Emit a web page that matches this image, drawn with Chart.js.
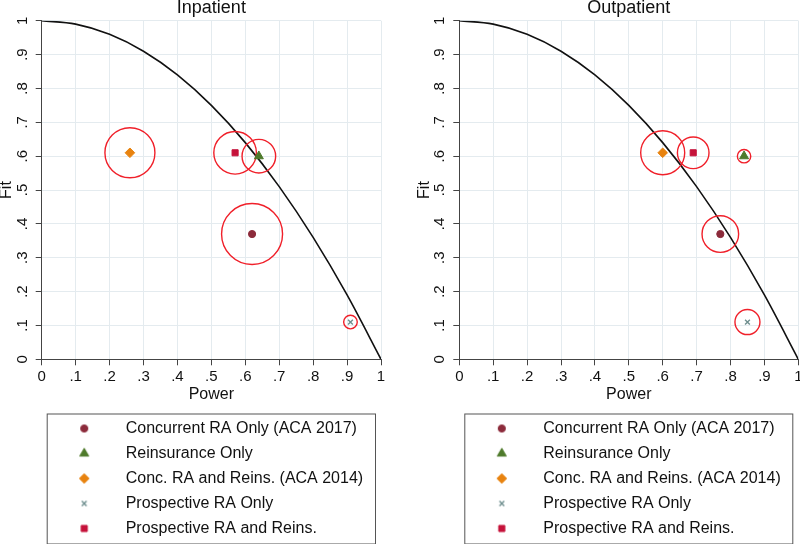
<!DOCTYPE html>
<html>
<head>
<meta charset="utf-8">
<title>Power and Fit: Inpatient and Outpatient</title>
<script src="https://cdn.jsdelivr.net/npm/chart.js@4.4.1/dist/chart.umd.min.js"></script>
<style>
  html, body { margin: 0; padding: 0; background: #fff; }
  #wrap { display: flex; width: 800px; height: 544px; }
  canvas { display: block; }
</style>
</head>
<body>
<div id="wrap">
  <canvas id="inpatientChart" width="400" height="544"></canvas>
  <canvas id="outpatientChart" width="400" height="544"></canvas>
</div>
<script>
// payment systems, in legend order
var scenarios = ['Concurrent RA Only (ACA 2017)', 'Reinsurance Only', 'Conc. RA and Reins. (ACA 2014)', 'Prospective RA Only', 'Prospective RA and Reins.'];

var inpatientPower = [0.62, 0.64, 0.26, 0.91, 0.57];
var inpatientFit = [0.37, 0.60, 0.61, 0.11, 0.61];
var inpatientRing = [30.5, 16.8, 25, 6.8, 21.3];

var outpatientPower = [0.77, 0.84, 0.60, 0.85, 0.69];
var outpatientFit = [0.37, 0.60, 0.61, 0.11, 0.61];
var outpatientRing = [18.3, 6.7, 22, 12.5, 15.8];

// frontier curve
var frontierPower = [0, .1, .2, .3, .4, .5, .6, .7, .8, .9, 1];
var frontierFit = [1, .99, .96, .91, .84, .75, .64, .51, .36, .19, 0];

var tickLabels = ['0', '.1', '.2', '.3', '.4', '.5', '.6', '.7', '.8', '.9', '1'];

var markerStyles = ['circle', 'triangle', 'rectRot', 'crossRot', 'rect'];
var markerColors = ['#8c2b3b', '#4e7a2b', '#e8830f', '#6f8f8f', '#c5123a'];
var markerSizes = [3.6, 5.2, 4.8, 3.4, 4.3];
var ringColor = '#f0202a';

Chart.defaults.font.family = '"Liberation Sans", Arial, Helvetica, sans-serif';
Chart.defaults.color = '#111';

// small canvases used as legend symbols
function makeIcon(i) {
    var c = document.createElement('canvas');
    c.width = 16; c.height = 16;
    var ctx = c.getContext('2d');
    ctx.fillStyle = markerColors[i];
    ctx.strokeStyle = markerColors[i];
    ctx.lineWidth = markerStyles[i] === 'crossRot' ? 1.4 : 1;
    Chart.helpers.drawPoint(ctx, { pointStyle: markerStyles[i], radius: markerSizes[i], rotation: 0, borderWidth: ctx.lineWidth }, 8, 8);
    return c;
}
var legendIcons = scenarios.map(function(s, i) { return makeIcon(i); });

var legendBox = {
    id: 'legendBox',
    afterDraw: function(chart) {
        var l = chart.legend, a = chart.chartArea, ctx = chart.ctx;
        ctx.save();
        ctx.strokeStyle = '#555';
        ctx.lineWidth = 1;
        ctx.strokeRect(a.left + 5.5, l.top + 2.5, a.right - a.left - 11, 130);
        ctx.restore();
    }
};

function makeChart(id, title, power, fit, ring, padLeft, padRight) {
    var datasets = [{
        label: 'frontier',
        data: frontierPower.map(function(x, i) { return { x: x, y: frontierFit[i] }; }),
        showLine: true,
        borderColor: '#111',
        borderWidth: 1.6,
        pointRadius: 0,
        cubicInterpolationMode: 'monotone',
        order: 3
    }, {
        type: 'bubble',
        label: 'rings',
        data: power.map(function(x, i) { return { x: x, y: fit[i], r: ring[i] }; }),
        backgroundColor: 'rgba(0,0,0,0)',
        borderColor: ringColor,
        borderWidth: 1.4,
        order: 2
    }];
    scenarios.forEach(function(name, i) {
        datasets.push({
            label: name,
            data: [{ x: power[i], y: fit[i] }],
            pointStyle: markerStyles[i],
            pointRadius: markerSizes[i],
            backgroundColor: markerColors[i],
            borderColor: markerColors[i],
            pointBorderWidth: markerStyles[i] === 'crossRot' ? 1.4 : 1,
            order: 1
        });
    });

    return new Chart(document.getElementById(id).getContext('2d'), {
        type: 'scatter',
        data: { datasets: datasets },
        options: {
            responsive: false,
            animation: false,
            devicePixelRatio: 1,
            layout: { autoPadding: false, padding: { left: padLeft, right: padRight, top: 0, bottom: -2.5 } },
            scales: {
                x: {
                    type: 'linear', min: 0, max: 1,
                    ticks: {
                        stepSize: 0.1, padding: 3, maxRotation: 0, autoSkip: false,
                        font: { size: 15 },
                        callback: function(v, i) { return tickLabels[i]; }
                    },
                    grid: { color: '#e4ebef', tickColor: '#444', tickLength: 6 },
                    border: { color: '#444', width: 1 },
                    title: { display: true, text: 'Power', font: { size: 16, lineHeight: 1 }, padding: { top: 0, bottom: 9 } },
                    afterFit: function(s) { s.height = 52.2; s.paddingLeft = 0; s.paddingRight = 0; }
                },
                y: {
                    type: 'linear', min: 0, max: 1,
                    ticks: {
                        stepSize: 0.1, padding: 7, minRotation: 90, maxRotation: 90, crossAlign: 'center', autoSkip: false,
                        font: { size: 15 },
                        callback: function(v, i) { return tickLabels[i]; }
                    },
                    grid: { color: '#e4ebef', tickColor: '#444', tickLength: 6 },
                    border: { color: '#444', width: 1 },
                    title: { display: true, text: 'Fit', font: { size: 16, lineHeight: 0.85 }, padding: 0 },
                    afterFit: function(s) { s.width = 41.7; s.paddingTop = 0; s.paddingBottom = 0; }
                }
            },
            plugins: {
                title: {
                    display: true, text: title, fullSize: false,
                    font: { size: 18, weight: 'normal', lineHeight: 0.78 },
                    padding: { top: 1.4, bottom: 5.3 }
                },
                legend: {
                    position: 'bottom', align: 'start', fullSize: false,
                    onClick: null,
                    labels: {
                        usePointStyle: true, pointStyleWidth: 67, padding: 9,
                        font: { size: 16 },
                        generateLabels: function() {
                            return scenarios.map(function(name, i) {
                                return { text: name, pointStyle: legendIcons[i], fontColor: '#111', lineWidth: 0, hidden: false, datasetIndex: i + 2 };
                            });
                        }
                    }
                },
                tooltip: { enabled: false }
            }
        },
        plugins: [legendBox]
    });
}

document.addEventListener('DOMContentLoaded', function() {
    makeChart('inpatientChart', 'Inpatient', inpatientPower, inpatientFit, inpatientRing, 0, 19);
    makeChart('outpatientChart', 'Outpatient', outpatientPower, outpatientFit, outpatientRing, 17.6, 1.7);
});
</script>
</body>
</html>
